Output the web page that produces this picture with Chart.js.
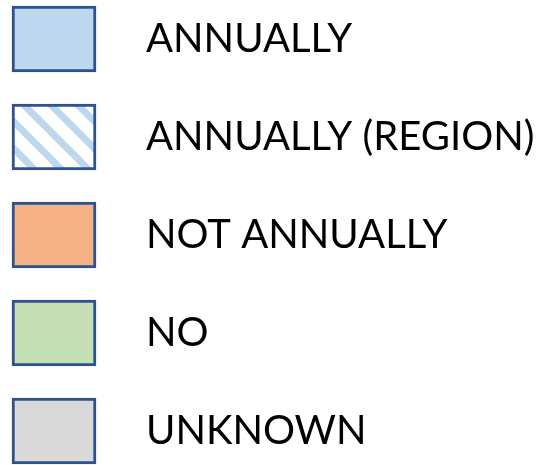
<!DOCTYPE html>
<html lang="en">
<head>
  <meta charset="UTF-8" />
  <title>Legend</title>
  <script src="https://cdn.jsdelivr.net/npm/chart.js"></script>
  <style>
    body { margin: 0; background: #fff; }
    #wrap { width: 552px; height: 465px; }
  </style>
</head>
<body>
  <div id="wrap"><canvas id="legendChart"></canvas></div>

  <script>
    const categories = ['ANNUALLY', 'ANNUALLY (REGION)', 'NOT ANNUALLY', 'NO', 'UNKNOWN'];
    const values = [1, 1, 1, 1, 1];
    const fills = ['#BDD7EE', 'hatch', '#F4B183', '#C5E0B4', '#D9D9D9'];

    // diagonal stripes for the "region" box
    function makeHatch(color) {
      const s = 27;
      const tile = document.createElement('canvas');
      tile.width = s; tile.height = s;
      const c = tile.getContext('2d');
      c.fillStyle = '#fff';
      c.fillRect(0, 0, s, s);
      c.strokeStyle = color;
      c.lineWidth = 7;
      for (let k = -1; k <= 1; k++) {
        c.beginPath();
        c.moveTo(k * s - s, -s);
        c.lineTo(k * s + 2 * s, 2 * s);
        c.stroke();
      }
      return c.createPattern(tile, 'repeat');
    }

    const hatch = makeHatch('#BDD7EE');
    const colors = fills.map(f => f === 'hatch' ? hatch : f);

    new Chart(document.getElementById('legendChart'), {
      type: 'bar',
      data: {
        labels: categories,
        datasets: [{
          data: values,
          backgroundColor: colors,
          borderColor: '#2F528F',
          borderWidth: 3,
          borderSkipped: false,
          barThickness: 66,
          clip: false
        }]
      },
      options: {
        indexAxis: 'y',
        responsive: true,
        maintainAspectRatio: false,
        animation: false,
        layout: { padding: { left: 12, top: 39, bottom: 34, right: 0 } },
        plugins: { legend: { display: false }, tooltip: { enabled: false } },
        scales: {
          x: { display: false, min: 0, max: 1 },
          y: {
            position: 'right',
            offset: false,
            grid: { display: false, drawTicks: false },
            border: { display: false },
            ticks: {
              color: '#000',
              padding: 50,
              font: { family: 'Lato', size: 40 }
            },
            afterFit: scale => {
              scale.width = 456;
              scale.paddingTop = 0;
              scale.paddingBottom = 0;
            }
          }
        }
      }
    });
  </script>
</body>
</html>
